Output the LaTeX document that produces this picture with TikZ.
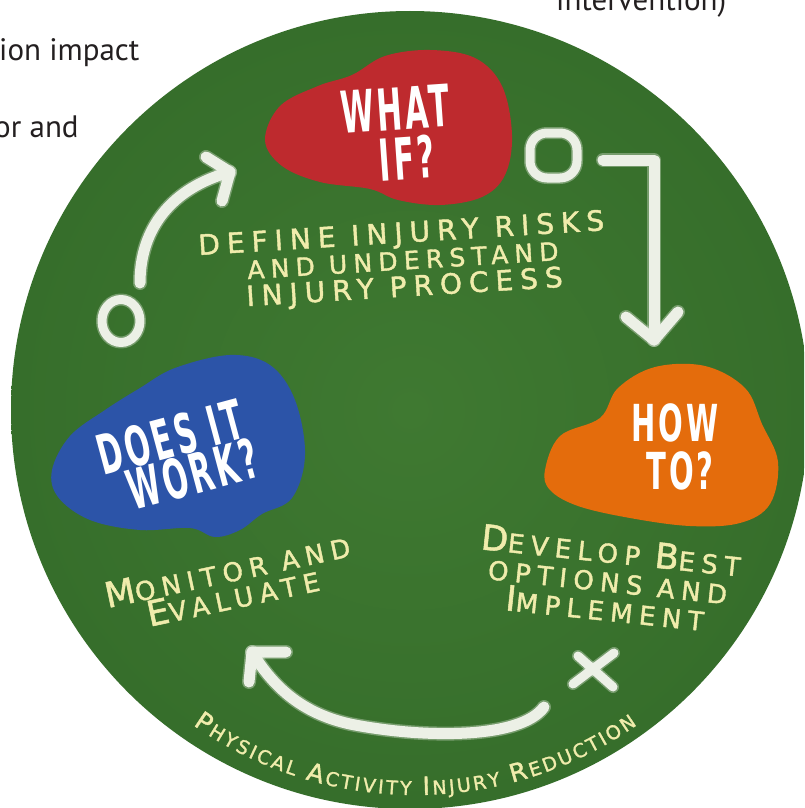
\documentclass[tikz,border=0pt]{standalone}
\usepackage{fontspec}
\setmainfont{DejaVu Sans}
\newfontfamily\pagefont{PT Sans}
\newfontfamily\stencilfont[LetterSpace=10]{DejaVu Sans}
\newfontfamily\chalkfont[LetterSpace=25, FakeBold=1.5]{DejaVu Sans}
\newfontfamily\chalkplain[FakeBold=1.5]{DejaVu Sans}
\usetikzlibrary{decorations.text}
\definecolor{boardin}{RGB}{63,121,49}
\definecolor{boardout}{RGB}{54,110,43}
\definecolor{blobred}{RGB}{190,42,46}
\definecolor{blobblue}{RGB}{44,84,168}
\definecolor{bloborange}{RGB}{228,108,12}
\definecolor{chalkcream}{RGB}{240,236,172}
\definecolor{chalkwhite}{RGB}{236,240,230}
\definecolor{pagetext}{RGB}{35,31,32}
\newcommand{\Bg}[1]{{\fontsize{35}{35}\selectfont #1}}
\newcommand{\sqz}[2]{\scalebox{#1}[1]{#2}}
\newcommand{\chbig}{\color{chalkcream}\chalkplain\fontsize{25}{25}\selectfont}
\newcommand{\chsmall}{\color{chalkcream}\chalkplain\fontsize{19}{19}\selectfont}
\begin{document}
\begin{tikzpicture}[x=1pt,y=-1pt,
  chalkline/.style={draw=chalkwhite, line width=11pt, line cap=round, line join=round,
    preaction={draw=chalkwhite, draw opacity=0.35, line width=14pt, line cap=round, line join=round}},
  chalkmark/.style={draw=chalkwhite, line width=9pt, line cap=round, line join=round,
    preaction={draw=chalkwhite, draw opacity=0.35, line width=12pt, line cap=round, line join=round}},
  stencil/.style={text=white, inner sep=0pt},
  chalktext/.style={text=chalkcream, inner sep=0pt, align=center},
  pagetxt/.style={text=pagetext, inner sep=0pt, font=\pagefont\fontsize{31}{31}\selectfont}]
\useasboundingbox (0,0) rectangle (804,808);
\clip (0,0) rectangle (804,808);
\fill[white] (0,0) rectangle (804,808);

% surrounding page text (cut off)
\node[pagetxt, anchor=base west] (ptA) at (-1,60) {ion impact};
\node[pagetxt, anchor=base west] (ptB) at (-6,137) {or and};
\node[pagetxt, anchor=base west] (ptC) at (556,11) {intervention)};

% chalkboard disc
\shade[inner color=boardin, outer color=boardout] (410,410) circle[radius=399pt];

% blobs
\fill[blobred] plot[smooth cycle, tension=0.6] coordinates {(265,140) (280,106) (318,86) (352,75) (385,56) (430,50) (475,58) (502,86) (512,135) (505,175) (482,197) (440,205) (398,200) (370,189) (320,182) (282,166)};
\fill[blobblue] plot[smooth cycle, tension=0.6] coordinates {(52,470) (70,436) (105,410) (140,388) (175,368) (230,355) (270,365) (295,400) (305,455) (292,498) (262,514) (240,530) (215,537) (190,528) (140,530) (90,520) (58,497)};
\fill[bloborange] plot[smooth cycle, tension=0.6] coordinates {(545,470) (560,436) (600,418) (618,388) (655,367) (705,366) (745,388) (762,424) (778,462) (770,504) (740,523) (690,526) (630,518) (578,506) (550,490)};

% stencil titles
\node[stencil, rotate=4, font=\stencilfont\bfseries\fontsize{58}{58}\selectfont] (what) at (395,109) {\sqz{0.52}{WHAT}};
\node[stencil, rotate=4, font=\stencilfont\bfseries\fontsize{58}{58}\selectfont] (if) at (407,158) {\sqz{0.52}{IF?}};
\node[stencil, rotate=15, font=\stencilfont\bfseries\fontsize{55}{55}\selectfont] (does) at (170,437) {\sqz{0.54}{DOES IT}};
\node[stencil, rotate=15, font=\stencilfont\bfseries\fontsize{55}{55}\selectfont] (work) at (193,474) {\sqz{0.54}{WORK?}};
\node[stencil, font=\stencilfont\bfseries\fontsize{51}{51}\selectfont] (how) at (675,423) {\sqz{0.57}{HOW}};
\node[stencil, font=\stencilfont\bfseries\fontsize{51}{51}\selectfont] (to) at (680,471) {\sqz{0.57}{TO?}};

% chalk captions
\node[chalktext, rotate=3.5, font=\chalkfont\fontsize{28}{27}\selectfont] (define) at (403,262)
  {DEFINE INJURY RISKS\\{\fontsize{25}{27}\selectfont AND UNDERSTAND}\\INJURY PROCESS};
\node[chalktext, rotate=-6, font=\chalkfont\fontsize{26}{29}\selectfont] (develop) at (608,579)
  {\Bg{D}EVELOP \Bg{B}EST\\OPTIONS AND\\\Bg{I}MPLEMENT};
\node[chalktext, rotate=12, font=\chalkfont\fontsize{26}{27}\selectfont] (monitor) at (230,583)
  {\Bg{M}ONITOR AND\\\Bg{E}VALUATE};

% chalk markers
\draw[chalkmark] (121,321) ellipse[x radius=19pt, y radius=21.5pt];
\draw[chalkmark, rounded corners=17pt] (530,133) rectangle (577,178);
\coordinate (x1a) at (578,656); \coordinate (x1b) at (613,687);
\coordinate (x2a) at (614,653); \coordinate (x2b) at (573,684);
\draw[chalkmark] (x1a) -- (x1b);
\draw[chalkmark] (x2a) -- (x2b);

% arrow 1 : from O up to WHAT IF?
\coordinate (a1s) at (140,283); \coordinate (a1e) at (230,172);
\draw[chalkline] (a1s) .. controls (140,228) and (172,188) .. (a1e);
\draw[chalkline] (206,157) -- (a1e) -- (222,201);

% arrow 2 : from O down to HOW TO?
\coordinate (a2s) at (603,160); \coordinate (a2c) at (654,160); \coordinate (a2e) at (654,340);
\draw[chalkline] (a2s) -- (a2c) -- (a2e);
\draw[chalkline] (626,317) -- (a2e) -- (678,312);

% arrow 3 : from X round to MONITOR
\coordinate (a3s) at (544,707); \coordinate (a3e) at (252,652);
\draw[chalkline] (a3s) .. controls (520,740) and (420,738) .. (350,724) .. controls (305,714) and (275,690) .. (a3e);
\draw[chalkline] (286,652) -- (a3e) -- (249,682);

% curved bottom title
\coordinate (arcc) at (415,408);
\path[decorate, decoration={text along path, text align=fit to path,
  text={|\chbig|P|\chsmall|HYSICAL |\chbig|A|\chsmall|CTIVITY |\chbig|I|\chsmall|NJURY |\chbig|R|\chsmall|EDUCTION}}]
  (arcc) ++(235:387pt) arc[start angle=235, end angle=305, radius=387pt];
\end{tikzpicture}
\end{document}
